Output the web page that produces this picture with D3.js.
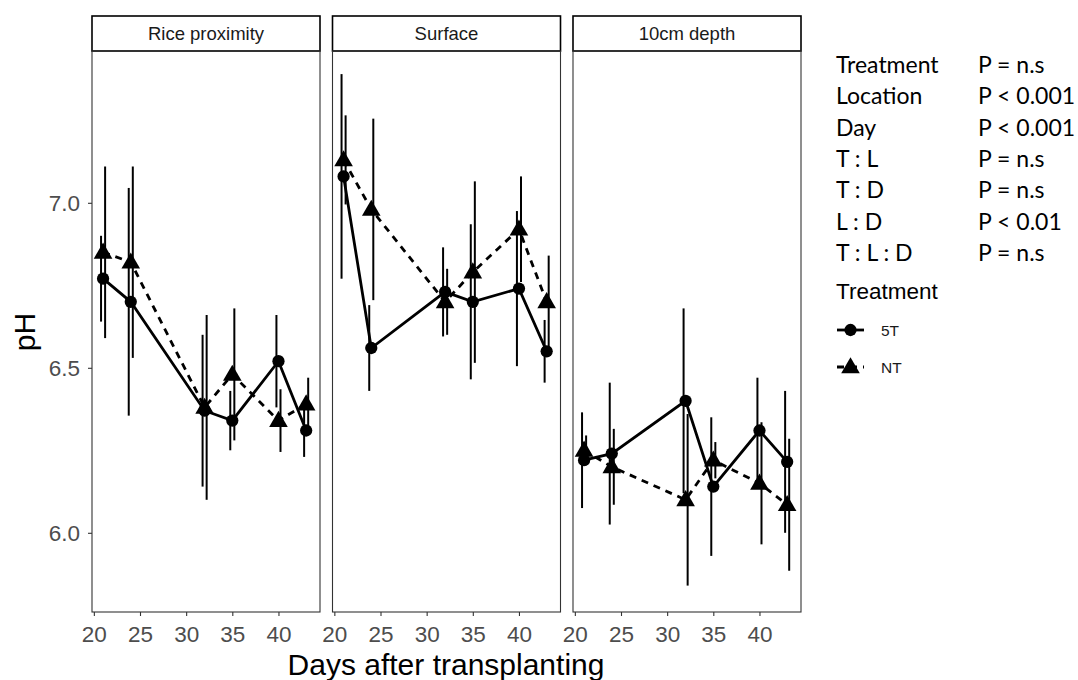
<!DOCTYPE html>
<html>
<head>
<meta charset="utf-8">
<script src="https://cdn.jsdelivr.net/npm/d3@7"></script>
<style>
  html, body { margin: 0; padding: 0; background: #fff; }
  svg { display: block; }
</style>
</head>
<body>
<svg id="chart" width="1078" height="680"></svg>
<script>
// ---------------- data ----------------
const days = [21, 24, 32, 35, 40, 43];
const locations = ["Rice proximity", "Surface", "10cm depth"];
const treatments = ["5T", "NT"];
const xTicks = [20, 25, 30, 35, 40];
const yTicks = [6.0, 6.5, 7.0];

// means and error half-widths, per location
const rice5T   = [6.77, 6.70, 6.37, 6.34, 6.52, 6.31];
const rice5Terr = [0.13, 0.345, 0.23, 0.09, 0.14, 0.08];
const riceNT   = [6.85, 6.82, 6.38, 6.48, 6.34, 6.39];
const riceNTerr = [0.26, 0.29, 0.28, 0.20, 0.095, 0.08];

const surf5T   = [7.08, 6.56, 6.73, 6.70, 6.74, 6.55];
const surf5Terr = [0.31, 0.13, 0.135, 0.235, 0.235, 0.095];
const surfNT   = [7.13, 6.98, 6.70, 6.79, 6.92, 6.70];
const surfNTerr = [0.135, 0.275, 0.10, 0.275, 0.16, 0.14];

const depth5T   = [6.22, 6.24, 6.40, 6.14, 6.31, 6.215];
const depth5Terr = [0.145, 0.215, 0.28, 0.21, 0.16, 0.215];
const depthNT   = [6.25, 6.20, 6.10, 6.22, 6.15, 6.085];
const depthNTerr = [0.045, 0.115, 0.26, 0.055, 0.185, 0.20];

const statTerms = ["Treatment", "Location", "Day", "T : L", "T : D", "L : D", "T : L : D"];
const statValues = ["P = n.s", "P < 0.001", "P < 0.001", "P = n.s", "P = n.s", "P < 0.01", "P = n.s"];

const seriesByLocation = [
  {"5T": [rice5T, rice5Terr], "NT": [riceNT, riceNTerr]},
  {"5T": [surf5T, surf5Terr], "NT": [surfNT, surfNTerr]},
  {"5T": [depth5T, depth5Terr], "NT": [depthNT, depthNTerr]}
];

// ---------------- layout ----------------
const svg = d3.select("#chart");
const panelLefts = [92, 332.5, 573];
const panelW = 228;
const plotTop = 51, plotBottom = 612;
const stripTop = 16;
const dodge = {"5T": -0.22, "NT": 0.22};
const axisFont = "'Liberation Sans', Arial, sans-serif";
const circleSym = d3.symbol().type(d3.symbolCircle).size(118);
const triSym = d3.symbol().type(d3.symbolTriangle).size(150);

const y = d3.scaleLinear().domain([5.76, 7.46]).range([plotBottom, plotTop]);

locations.forEach((loc, i) => {
  const left = panelLefts[i];
  const x = d3.scaleLinear().domain([19.8, 44.5]).range([left, left + panelW]);
  const g = svg.append("g");

  // strip
  g.append("rect").attr("x", left).attr("y", stripTop)
    .attr("width", panelW).attr("height", plotTop - stripTop)
    .attr("fill", "#fff").attr("stroke", "#000").attr("stroke-width", 1.6);
  g.append("text").attr("x", left + panelW / 2).attr("y", 40)
    .attr("text-anchor", "middle").attr("font-family", axisFont)
    .attr("font-size", 18.5).attr("fill", "#1a1a1a").text(loc);

  // panel border
  g.append("rect").attr("x", left).attr("y", plotTop)
    .attr("width", panelW).attr("height", plotBottom - plotTop)
    .attr("fill", "none").attr("stroke", "#333").attr("stroke-width", 1.1);

  // x axis
  const xa = g.append("g").attr("transform", `translate(0,${plotBottom})`)
    .call(d3.axisBottom(x).tickValues(xTicks).tickSize(4).tickPadding(10).tickFormat(d3.format("d")));
  xa.select(".domain").remove();
  xa.selectAll("line").attr("stroke", "#333").attr("stroke-width", 1.1);
  xa.selectAll("text").attr("font-family", axisFont).attr("font-size", 22.5).attr("fill", "#4d4d4d");

  // y axis only on first panel
  if (i === 0) {
    const ya = g.append("g").attr("transform", `translate(${left},0)`)
      .call(d3.axisLeft(y).tickValues(yTicks).tickSize(4).tickPadding(8).tickFormat(d3.format(".1f")));
    ya.select(".domain").remove();
    ya.selectAll("line").attr("stroke", "#333").attr("stroke-width", 1.1);
    ya.selectAll("text").attr("font-family", axisFont).attr("font-size", 22.5).attr("fill", "#4d4d4d");
  }

  const series = seriesByLocation[i];
  treatments.forEach(tr => {
    const [means, errs] = series[tr];
    const pts = days.map((d, k) => ({day: d, m: means[k], e: errs[k]}));
    // line
    g.append("path").datum(pts)
      .attr("fill", "none").attr("stroke", "#000").attr("stroke-width", 2.8)
      .attr("stroke-dasharray", tr === "NT" ? "7,6" : null)
      .attr("d", d3.line().x(p => x(p.day)).y(p => y(p.m)));
    // error bars
    g.selectAll(null).data(pts).enter().append("line")
      .attr("x1", p => x(p.day + dodge[tr])).attr("x2", p => x(p.day + dodge[tr]))
      .attr("y1", p => y(p.m - p.e)).attr("y2", p => y(p.m + p.e))
      .attr("stroke", "#000").attr("stroke-width", 2);
    // points
    const sym = tr === "5T" ? circleSym : triSym;
    g.selectAll(null).data(pts).enter().append("path")
      .attr("transform", p => `translate(${x(p.day)},${y(p.m) + (tr === "NT" ? 1 : 0)})`)
      .attr("d", sym()).attr("fill", "#000");
  });
});

// axis titles
svg.append("text").attr("x", 446).attr("y", 675).attr("text-anchor", "middle")
  .attr("font-family", axisFont).attr("font-size", 30).attr("fill", "#000")
  .text("Days after transplanting");
svg.append("text").attr("transform", "translate(35,332) rotate(-90)").attr("text-anchor", "middle")
  .attr("font-family", axisFont).attr("font-size", 30).attr("fill", "#000").text("pH");

// statistics table
const statFont = "Lato, 'Open Sans', sans-serif";
const stats = svg.append("g");
statTerms.forEach((t, k) => {
  const yy = 73 + k * 31.3;
  stats.append("text").attr("x", 836).attr("y", yy).attr("font-family", statFont)
    .attr("font-size", 23).attr("fill", "#000").text(t);
  stats.append("text").attr("x", 978).attr("y", yy).attr("font-family", statFont)
    .attr("font-size", 23).attr("fill", "#000").text(statValues[k]);
});
stats.append("text").attr("x", 836).attr("y", 299).attr("font-family", axisFont)
  .attr("font-size", 22.5).attr("fill", "#000").text("Treatment");

// legend keys
treatments.forEach((tr, k) => {
  const cy = 330 + k * 37;
  const lg = svg.append("g");
  lg.append("line").attr("x1", 837).attr("x2", 864).attr("y1", cy).attr("y2", cy)
    .attr("stroke", "#000").attr("stroke-width", 2.8)
    .attr("stroke-dasharray", tr === "NT" ? "7,6" : null);
  const sym = tr === "5T" ? circleSym : triSym;
  lg.append("path").attr("transform", `translate(850.5,${cy + (tr === "NT" ? 1 : 0)})`)
    .attr("d", sym()).attr("fill", "#000");
  lg.append("text").attr("x", 881).attr("y", cy + 5.5).attr("font-family", axisFont)
    .attr("font-size", 15.5).attr("fill", "#1a1a1a").text(tr);
});
</script>
</body>
</html>
